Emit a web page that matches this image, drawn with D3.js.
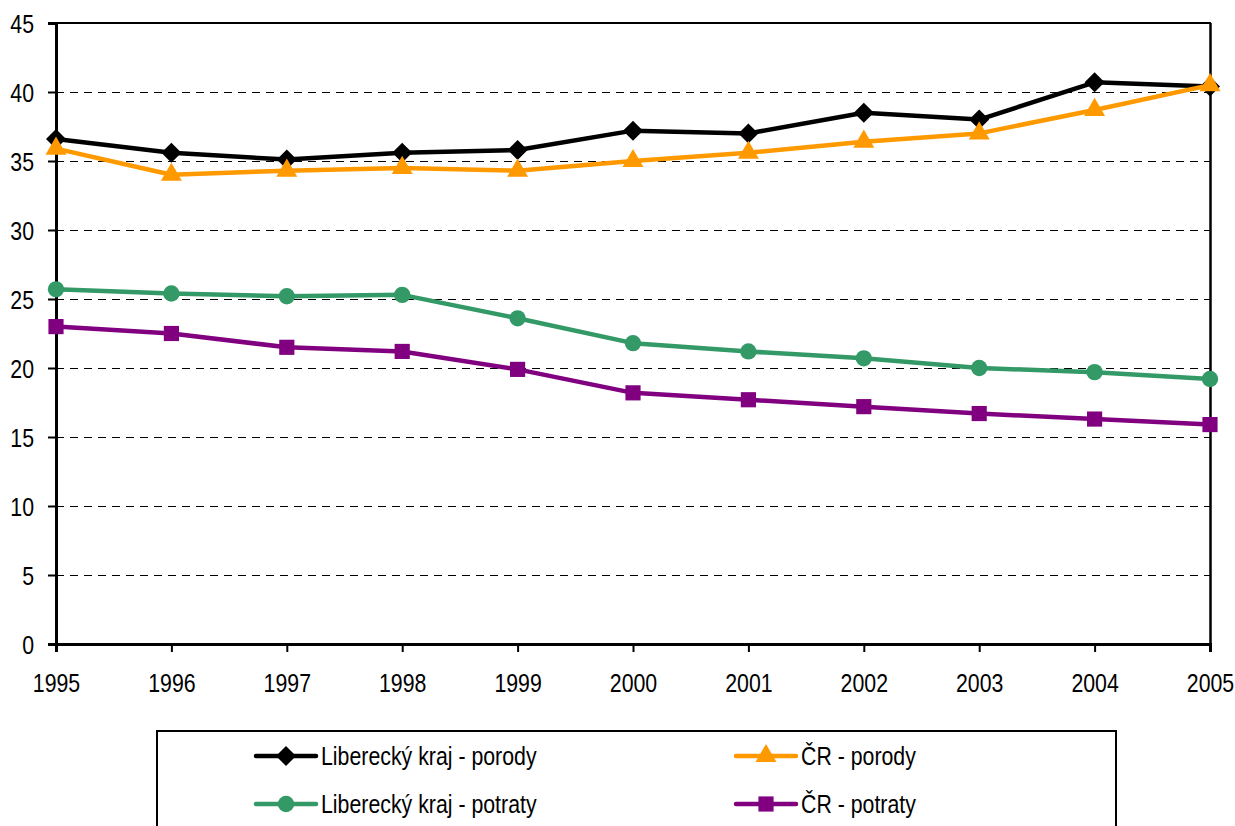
<!DOCTYPE html>
<html><head><meta charset="utf-8">
<script src="https://cdn.jsdelivr.net/npm/d3@7"></script>
<style>
body{margin:0;background:#fff;}
svg{display:block;}
svg text{font-family:"Liberation Sans Narrow","Arial Narrow","Liberation Sans",Arial,sans-serif;}
</style></head><body>
<svg id="c" width="1235" height="826"></svg>
<script>
const years = [1995,1996,1997,1998,1999,2000,2001,2002,2003,2004,2005];
const libPorody = [36.6,35.6,35.1,35.6,35.8,37.2,37.0,38.5,38.0,40.7,40.4];
const crPorody = [35.9,34.0,34.3,34.5,34.3,35.0,35.6,36.4,37.0,38.7,40.5];
const libPotraty = [25.7,25.4,25.2,25.3,23.6,21.8,21.2,20.7,20.0,19.7,19.2];
const crPotraty = [23.0,22.5,21.5,21.2,19.9,18.2,17.7,17.2,16.7,16.3,15.9];
const yTicks = [0,5,10,15,20,25,30,35,40,45];
const seriesNames = ["Liberecký kraj - porody","ČR - porody","Liberecký kraj - potraty","ČR - potraty"];

const diamond = {draw(ctx,size){const r=Math.sqrt(size/2);ctx.moveTo(0,-r);ctx.lineTo(r,0);ctx.lineTo(0,r);ctx.lineTo(-r,0);ctx.closePath();}};
const series = [
  {name:seriesNames[0], values:libPorody, color:"#000000", marker:diamond, size:200},
  {name:seriesNames[1], values:crPorody, color:"#FF9900", marker:d3.symbolTriangle, size:190},
  {name:seriesNames[2], values:libPotraty, color:"#339966", marker:d3.symbolCircle, size:210},
  {name:seriesNames[3], values:crPotraty, color:"#800080", marker:d3.symbolSquare, size:230}
];

const SX = 0.82, FS = "26px";
const svg = d3.select("#c");
const L=56, R=1210, T=23, B=644;
const x = d3.scaleLinear().domain([1995,2005]).range([L,R]);
const y = d3.scaleLinear().domain([0,45]).range([B,T]);

// gridlines
svg.append("g").selectAll("line").data(yTicks.filter(v=>v>0 && v<45)).join("line")
  .attr("x1",L).attr("x2",R).attr("y1",d=>y(d)+0.5).attr("y2",d=>y(d)+0.5)
  .attr("stroke","#000").attr("stroke-width",1).attr("stroke-dasharray","8,6");
// border top/right
svg.append("line").attr("x1",L).attr("x2",R+1).attr("y1",y(45)).attr("y2",y(45)).attr("stroke","#000").attr("stroke-width",2);
svg.append("line").attr("x1",R+0.5).attr("x2",R+0.5).attr("y1",T).attr("y2",B).attr("stroke","#000").attr("stroke-width",2.5);

// axes
const yAxis = svg.append("g").attr("transform",`translate(${L},0)`)
  .call(d3.axisLeft(y).tickValues(yTicks).tickSize(8).tickPadding(14));
const xAxis = svg.append("g").attr("transform",`translate(0,${B})`)
  .call(d3.axisBottom(x).tickValues(years).tickFormat(d3.format("d")).tickSize(8).tickPadding(22));
[yAxis,xAxis].forEach(a=>{
  a.attr("font-family",null).attr("font-size",null);
  a.select(".domain").attr("stroke","#000").attr("stroke-width",3);
  a.selectAll(".tick line").attr("stroke","#000").attr("stroke-width",2);
  a.selectAll("text").attr("fill","#000").style("font-size",FS).attr("transform",`scale(${SX},1)`);
});
yAxis.selectAll("text").attr("x",-22/SX).attr("dy","0.36em");

const line = d3.line().x((d,i)=>x(years[i])).y(d=>y(d));
series.forEach(s=>{
  svg.append("path").datum(s.values).attr("d",line)
    .attr("fill","none").attr("stroke",s.color).attr("stroke-width",4.5).attr("stroke-linejoin","round");
  svg.append("g").selectAll("path").data(s.values).join("path")
    .attr("d",d3.symbol().type(s.marker).size(s.size))
    .attr("transform",(d,i)=>`translate(${x(years[i])},${y(d)})`)
    .attr("fill",s.color);
});

// legend
const lg = svg.append("g");
lg.append("rect").attr("x",157).attr("y",731).attr("width",959).attr("height",120)
  .attr("fill","#fff").attr("stroke","#000").attr("stroke-width",2);
const pos = [[256,756],[736,756],[256,804],[736,804]];
series.forEach((s,i)=>{
  const [px,py]=pos[i];
  lg.append("line").attr("x1",px).attr("x2",px+60).attr("y1",py).attr("y2",py)
    .attr("stroke",s.color).attr("stroke-width",4.5).attr("stroke-linecap","round");
  lg.append("path").attr("d",d3.symbol().type(s.marker).size(s.size)).attr("transform",`translate(${px+30},${py})`).attr("fill",s.color);
  lg.append("text").attr("transform",`translate(${px+65},${py}) scale(${SX},1)`).attr("dy","0.36em")
    .style("font-size",FS).attr("fill","#000").text(s.name);
});
</script>
</body></html>
